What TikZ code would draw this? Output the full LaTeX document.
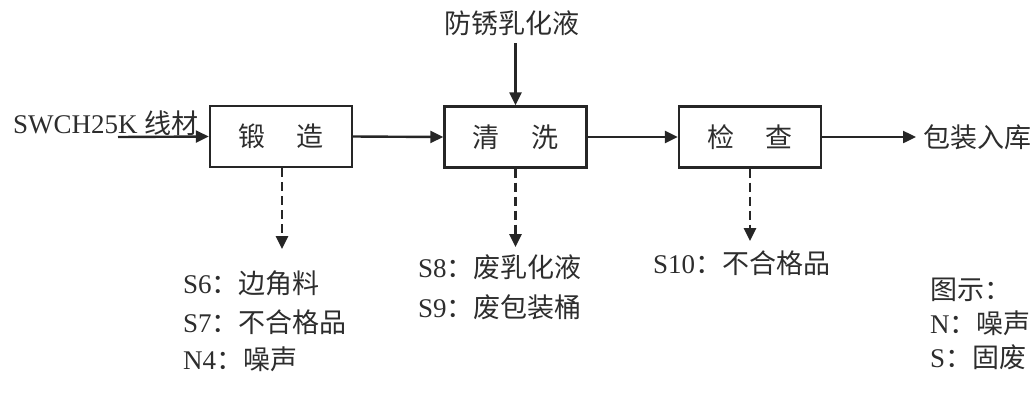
\documentclass[tikz,border=0pt]{standalone}
\usepackage{fontspec}
\setmainfont{Liberation Serif}
\newfontfamily\cjk{Noto Sans CJK SC}
\usetikzlibrary{arrows.meta}
\definecolor{txt}{RGB}{45,45,45}
\begin{document}
\begin{tikzpicture}[x=1pt,y=-1pt,
  every node/.style={text=txt,font=\fontsize{27}{30}\selectfont},
  box/.style={draw=black!85,line width=2.4pt,minimum width=142pt,minimum height=61pt,inner sep=0pt},
  lbl/.style={anchor=west,inner sep=0pt},
  arr/.style={draw=black!85,line width=2.4pt,-{Triangle[length=13pt,width=12pt]}},
  dasharr/.style={draw=black!85,line width=2.6pt,dash pattern=on 9pt off 5pt,-{Triangle[length=13pt,width=12pt]}}]
\useasboundingbox (0,0) rectangle (1035,392);
% boxes
\node[box] (forge) at (281,136.5) {\cjk 锻\hspace{1.15em}造};
\node[box] (wash)  at (515.5,137) {\cjk 清\hspace{1.15em}洗};
\node[box] (check) at (750,137)   {\cjk 检\hspace{1.15em}查};
% input
\node[lbl] (wire) at (13,123) {SWCH25K {\cjk 线材}};
\coordinate (in) at (118,137);
\draw[arr] (in) -- (forge.west);
\draw[arr] (forge.east) -- (wash.west);
\draw[arr] (wash.east) -- (check.west);
% top input
\node[inner sep=0pt] (emul) at (512,23) {\cjk 防锈乳化液};
\coordinate (emtop) at (515.5,43);
\draw[arr] (emtop) -- (wash.north);
% output
\node[lbl] (pack) at (923,137) {\cjk 包装入库};
\coordinate (packin) at (916,137);
\draw[arr] (check.east) -- (packin);
% dashed outputs
\coordinate (d1) at (282,249);
\coordinate (d2) at (515.5,247);
\coordinate (d3) at (750,241);
\draw[dasharr] (forge.south -| d1) -- (d1);
\draw[dasharr] (wash.south) -- (d2);
\draw[dasharr] (check.south) -- (d3);
% lists
\node[lbl] (s6) at (183,283) {S6{\cjk ：边角料}};
\node[lbl] (s7) at (183,322) {S7{\cjk ：不合格品}};
\node[lbl] (n4) at (183,359) {N4{\cjk ：噪声}};
\node[lbl] (s8) at (418,267) {S8{\cjk ：废乳化液}};
\node[lbl] (s9) at (418,307) {S9{\cjk ：废包装桶}};
\node[lbl] (s10) at (653,263) {S10{\cjk ：不合格品}};
% legend
\node[lbl] (lg) at (930,290) {\cjk 图示：};
\node[lbl] (lgn) at (930,323) {N{\cjk ：噪声}};
\node[lbl] (lgs) at (930,357) {S{\cjk ：固废}};
\end{tikzpicture}
\end{document}
